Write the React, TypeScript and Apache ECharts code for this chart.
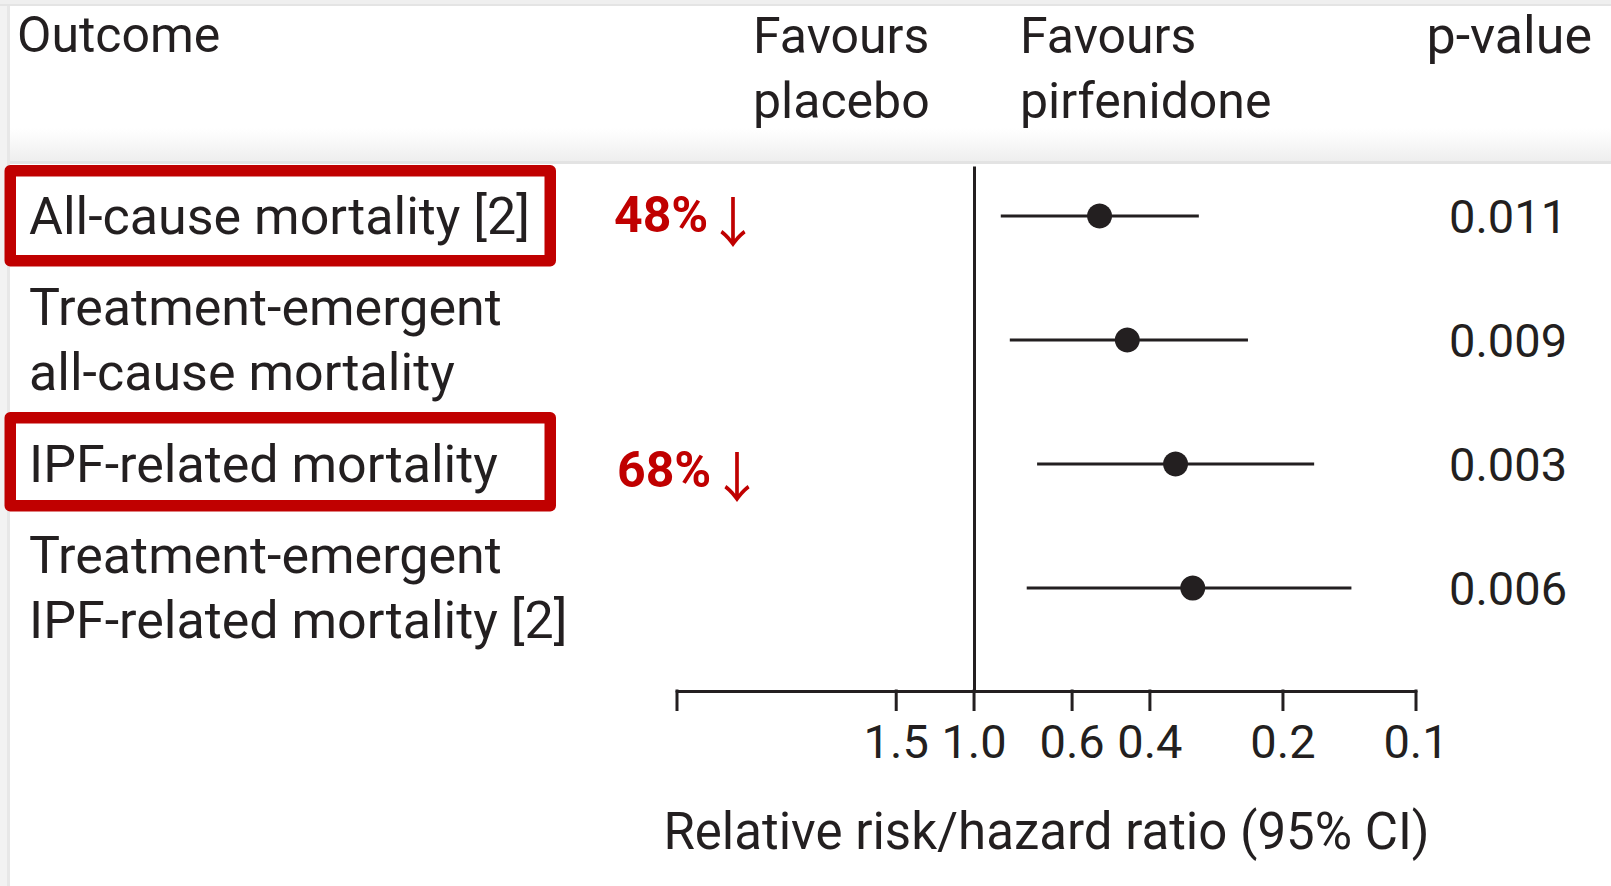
import React, { useEffect, useRef } from 'react';
import * as echarts from 'echarts';

// ---------- data ----------
const OUTCOMES = [
  'All-cause mortality [2]',
  'Treatment-emergent\nall-cause mortality',
  'IPF-related mortality',
  'Treatment-emergent\nIPF-related mortality [2]',
];
const HAZARD_RATIO = [0.52, 0.45, 0.35, 0.32];
const CI_LOWER = [0.31, 0.24, 0.17, 0.14];
const CI_UPPER = [0.87, 0.83, 0.72, 0.76];
const P_VALUES = ['0.011', '0.009', '0.003', '0.006'];
const TICK_VALUES = [4.7, 1.5, 1.0, 0.6, 0.4, 0.2, 0.1];
const TICK_LABELS = ['', '1.5', '1.0', '0.6', '0.4', '0.2', '0.1'];
const AXIS_MIN = 0.1;
const AXIS_MAX = 4.7;
const REFERENCE_VALUE = 1.0;

// ---------- layout / style constants ----------
const ROW_MAX = 4.83; // y-extent (rows 1..4, axis at the bottom)
const REF_TOP = 0.6; // where the reference line starts (in row units)
const INK = '#231f20';
const RED = '#c00000';
const FONT = 'Roboto, "Liberation Sans", sans-serif';

export default function App() {
  const ref = useRef<HTMLDivElement>(null);

  useEffect(() => {
    if (!ref.current) return;
    const chart = echarts.init(ref.current, undefined, { renderer: 'svg' });

    const ciData = OUTCOMES.map((_, i) => [CI_LOWER[i], CI_UPPER[i], i + 1]);
    const pointData = OUTCOMES.map((_, i) => [HAZARD_RATIO[i], i + 1]);
    const tickData = TICK_VALUES.map((v) => [v, ROW_MAX]);

    const option: any = {
      animation: false,
      backgroundColor: '#ffffff',
      grid: { left: 677, right: 195, top: 92, bottom: 195, containLabel: false },
      xAxis: {
        type: 'log',
        logBase: 10,
        inverse: true,
        min: AXIS_MIN,
        max: AXIS_MAX,
        axisLine: { show: true, onZero: false, lineStyle: { color: INK, width: 3 } },
        axisTick: { show: false },
        axisLabel: { show: false },
        splitLine: { show: false },
        name: 'Relative risk/hazard ratio (95% CI)',
        nameLocation: 'middle',
        nameGap: 140,
        nameTextStyle: {
          fontFamily: FONT,
          fontSize: 51,
          color: INK,
          verticalAlign: 'middle',
        },
      },
      yAxis: [
        {
          type: 'value',
          inverse: true,
          min: 0,
          max: ROW_MAX,
          interval: 1,
          axisLine: { show: false },
          axisTick: { show: false },
          splitLine: { show: false },
          axisLabel: {
            align: 'left',
            margin: 648,
            fontFamily: FONT,
            fontSize: 52,
            lineHeight: 65,
            color: INK,
            showMinLabel: true,
            showMaxLabel: true,
            formatter: (v: number) =>
              Number.isInteger(v) && v >= 1 && v <= OUTCOMES.length ? OUTCOMES[v - 1] : '',
          },
        },
        {
          type: 'value',
          position: 'right',
          inverse: true,
          min: 0,
          max: ROW_MAX,
          interval: 1,
          axisLine: { show: false },
          axisTick: { show: false },
          splitLine: { show: false },
          axisLabel: {
            align: 'left',
            margin: 33,
            fontFamily: FONT,
            fontSize: 47,
            color: INK,
            formatter: (v: number) =>
              Number.isInteger(v) && v >= 1 && v <= P_VALUES.length ? P_VALUES[v - 1] : '',
          },
        },
      ],
      series: [
        {
          type: 'custom',
          name: 'CI',
          clip: false,
          z: 2,
          data: ciData,
          encode: { x: [0, 1], y: 2 },
          renderItem: (params: any, api: any) => {
            const a = api.coord([api.value(0), api.value(2)]);
            const b = api.coord([api.value(1), api.value(2)]);
            return {
              type: 'line',
              shape: { x1: a[0], y1: a[1], x2: b[0], y2: b[1] },
              style: { stroke: INK, lineWidth: 3 },
            };
          },
        },
        {
          type: 'scatter',
          name: 'Estimate',
          z: 3,
          symbol: 'circle',
          symbolSize: 25,
          itemStyle: { color: INK, opacity: 1 },
          data: pointData,
          markLine: {
            silent: true,
            symbol: 'none',
            label: { show: false },
            lineStyle: { color: INK, width: 3, type: 'solid', opacity: 1 },
            data: [
              [
                { coord: [REFERENCE_VALUE, REF_TOP] },
                { coord: [REFERENCE_VALUE, ROW_MAX] },
              ],
            ],
          },
        },
        {
          type: 'custom',
          name: 'Ticks',
          clip: false,
          z: 2,
          data: tickData,
          encode: { x: 0, y: 1 },
          renderItem: (params: any, api: any) => {
            const p = api.coord([api.value(0), api.value(1)]);
            const label = TICK_LABELS[params.dataIndex];
            return {
              type: 'group',
              children: [
                {
                  type: 'line',
                  shape: { x1: p[0], y1: p[1] - 1.5, x2: p[0], y2: p[1] + 20 },
                  style: { stroke: INK, lineWidth: 3 },
                },
                {
                  type: 'text',
                  style: {
                    text: label,
                    x: p[0],
                    y: p[1] + 50,
                    align: 'center',
                    verticalAlign: 'middle',
                    fontFamily: FONT,
                    fontSize: 47,
                    fill: INK,
                  },
                },
              ],
            };
          },
        },
      ],
      graphic: [
        // slide frame / header band
        { type: 'rect', z: -10, shape: { x: 0, y: 0, width: 7, height: 886 }, style: { fill: '#f2f2f2' } },
        { type: 'rect', z: -10, shape: { x: 7, y: 0, width: 3, height: 886 }, style: { fill: '#e7e7e7' } },
        { type: 'rect', z: -10, shape: { x: 0, y: 0, width: 1611, height: 4 }, style: { fill: '#efefef' } },
        { type: 'rect', z: -10, shape: { x: 0, y: 4, width: 1611, height: 2 }, style: { fill: '#e4e4e4' } },
        {
          type: 'rect',
          z: -10,
          shape: { x: 10, y: 128, width: 1601, height: 33 },
          style: {
            fill: new echarts.graphic.LinearGradient(0, 0, 0, 1, [
              { offset: 0, color: 'rgba(240,240,240,0)' },
              { offset: 1, color: '#eeeeee' },
            ]),
          },
        },
        { type: 'rect', z: -10, shape: { x: 10, y: 161, width: 1601, height: 3 }, style: { fill: '#e3e3e3' } },
        // header texts
        {
          type: 'text',
          style: { text: 'Outcome', x: 17, y: 35, align: 'left', verticalAlign: 'middle', fontFamily: FONT, fontSize: 50, fill: INK },
        },
        {
          type: 'text',
          style: { text: 'Favours\nplacebo', x: 753, y: 68, align: 'left', verticalAlign: 'middle', lineHeight: 65, fontFamily: FONT, fontSize: 50, fill: INK },
        },
        {
          type: 'text',
          style: { text: 'Favours\npirfenidone', x: 1020, y: 68, align: 'left', verticalAlign: 'middle', lineHeight: 65, fontFamily: FONT, fontSize: 50, fill: INK },
        },
        {
          type: 'text',
          style: { text: 'p-value', x: 1592, y: 35, align: 'right', verticalAlign: 'middle', fontFamily: FONT, fontSize: 52, fill: INK },
        },
        // highlight boxes
        {
          type: 'rect',
          shape: { x: 10.25, y: 170.75, width: 540, height: 90 },
          style: { fill: 'none', stroke: RED, lineWidth: 11.5, lineJoin: 'round' },
        },
        {
          type: 'rect',
          shape: { x: 10.25, y: 417.75, width: 540, height: 88 },
          style: { fill: 'none', stroke: RED, lineWidth: 11.5, lineJoin: 'round' },
        },
        // reduction annotations
        {
          type: 'text',
          style: { text: '48%', x: 614, y: 215, align: 'left', verticalAlign: 'middle', fontFamily: FONT, fontWeight: 'bold', fontSize: 50, fill: RED },
        },
        {
          type: 'text',
          style: { text: '↓', x: 733, y: 219, align: 'center', verticalAlign: 'middle', fontFamily: '"Noto Sans CJK SC", "DejaVu Sans"', fontSize: 54, fill: RED },
        },
        {
          type: 'text',
          style: { text: '68%', x: 617, y: 470, align: 'left', verticalAlign: 'middle', fontFamily: FONT, fontWeight: 'bold', fontSize: 50, fill: RED },
        },
        {
          type: 'text',
          style: { text: '↓', x: 737, y: 474, align: 'center', verticalAlign: 'middle', fontFamily: '"Noto Sans CJK SC", "DejaVu Sans"', fontSize: 54, fill: RED },
        },
      ],
    };

    chart.setOption(option);
    return () => chart.dispose();
  }, []);

  return (
    <div
      ref={ref}
      style={{ position: 'fixed', left: 0, top: 0, width: 1611, height: 886, background: '#fff' }}
    />
  );
}
